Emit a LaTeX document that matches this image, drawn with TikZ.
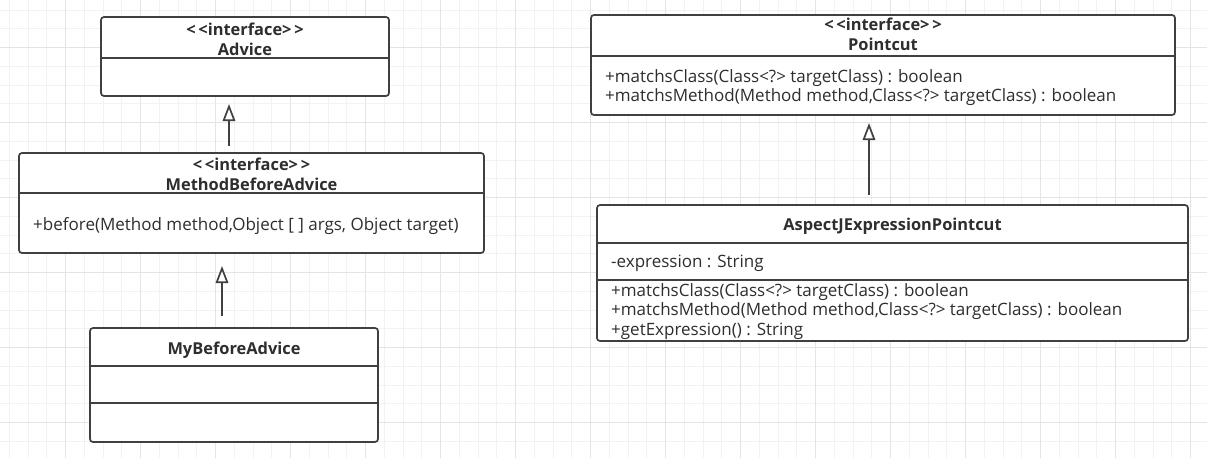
\documentclass[tikz,border=0pt]{standalone}
\usepackage{fontspec}
\setmainfont{Open Sans}
\usetikzlibrary{arrows.meta}
\definecolor{boxc}{HTML}{404040}
\definecolor{txtc}{HTML}{2E2E2E}
\definecolor{gridminor}{HTML}{F2F2F2}
\definecolor{gridmajor}{HTML}{E4E4E4}
\tikzset{
  umlbox/.style={draw=boxc, fill=white, line width=1.7pt, rounded corners=3pt, inner sep=0pt},
  sepline/.style={draw=boxc, line width=1.7pt},
  inh/.style={draw=boxc, line width=1.7pt, -{Triangle[open, length=17pt, width=12.5pt]}},
  ttl/.style={font=\bfseries\fontsize{16.4}{19}\selectfont, text=txtc, anchor=base, inner sep=0pt},
  mem/.style={font=\fontsize{17}{20}\selectfont, text=txtc, anchor=base west, inner sep=0pt},
}
\begin{document}
\begin{tikzpicture}[x=1pt,y=-1pt]
\useasboundingbox (0,0) rectangle (1207,458);
\fill[white] (0,0) rectangle (1207,458);
% grid
\foreach \k in {0,...,64} {\draw[gridminor, line width=1pt] ({9.45+18.75*\k},0) -- ({9.45+18.75*\k},458);}
\foreach \k in {0,...,24} {\draw[gridminor, line width=1pt] (0,{10.2+18.75*\k}) -- (1207,{10.2+18.75*\k});}
\foreach \k in {0,...,15} {\draw[gridmajor, line width=1pt] ({65.7+75*\k},0) -- ({65.7+75*\k},458);}
\foreach \k in {0,...,5} {\draw[gridmajor, line width=1pt] (0,{47.7+75*\k}) -- (1207,{47.7+75*\k});}

% Advice
\node[umlbox, minimum width=288pt, minimum height=79pt] (advice) at (245,56.5) {};
\draw[sepline] (advice.west |- 0,58) -- (advice.east |- 0,58);
\node[ttl] (adviceS) at (245,35) {<\,<interface>\,>};
\node[ttl] (adviceN) at (245,55) {Advice};

% MethodBeforeAdvice
\node[umlbox, minimum width=465pt, minimum height=100pt] (mba) at (251.5,203) {};
\draw[sepline] (mba.west |- 0,193) -- (mba.east |- 0,193);
\node[ttl] (mbaS) at (251.5,170.7) {<\,<interface>\,>};
\node[ttl] (mbaN) at (251.5,190.7) {MethodBeforeAdvice};
\node[mem] (mbaM) at (33,230.7) {+before(Method method,Object [ ] args, Object target)};

% MyBeforeAdvice
\node[umlbox, minimum width=288pt, minimum height=114pt] (my) at (234,385) {};
\draw[sepline] (my.west |- 0,366) -- (my.east |- 0,366);
\draw[sepline] (my.west |- 0,403) -- (my.east |- 0,403);
\node[ttl] (myN) at (234,354) {MyBeforeAdvice};

% Pointcut
\node[umlbox, minimum width=584pt, minimum height=100pt] (pc) at (883,65) {};
\draw[sepline] (pc.west |- 0,56) -- (pc.east |- 0,56);
\node[ttl] (pcS) at (883,30.7) {<\,<interface>\,>};
\node[ttl] (pcN) at (883,50.7) {Pointcut};
\node[mem] (pcM1) at (605,82) {+matchsClass(Class<?> targetClass) : boolean};
\node[mem] (pcM2) at (605,101.3) {+matchsMethod(Method method,Class<?> targetClass) : boolean};

% AspectJExpressionPointcut
\node[umlbox, minimum width=591pt, minimum height=136pt] (aj) at (892.5,273) {};
\draw[sepline] (aj.west |- 0,243) -- (aj.east |- 0,243);
\draw[sepline] (aj.west |- 0,280) -- (aj.east |- 0,280);
\node[ttl] (ajN) at (892.5,230.7) {AspectJExpressionPointcut};
\node[mem] (ajA) at (611,267.3) {-expression : String};
\node[mem] (ajM1) at (611,296) {+matchsClass(Class<?> targetClass) : boolean};
\node[mem] (ajM2) at (611,315.3) {+matchsMethod(Method method,Class<?> targetClass) : boolean};
\node[mem] (ajM3) at (611,335.3) {+getExpression() : String};

% inheritance arrows
\coordinate (a1s) at (229,146); \coordinate (a1e) at (229,104);
\coordinate (a2s) at (222,316); \coordinate (a2e) at (222,266);
\coordinate (a3s) at (869,195); \coordinate (a3e) at (869,123);
\draw[inh] (a1s) -- (a1e);
\draw[inh] (a2s) -- (a2e);
\draw[inh] (a3s) -- (a3e);
\end{tikzpicture}
\end{document}
